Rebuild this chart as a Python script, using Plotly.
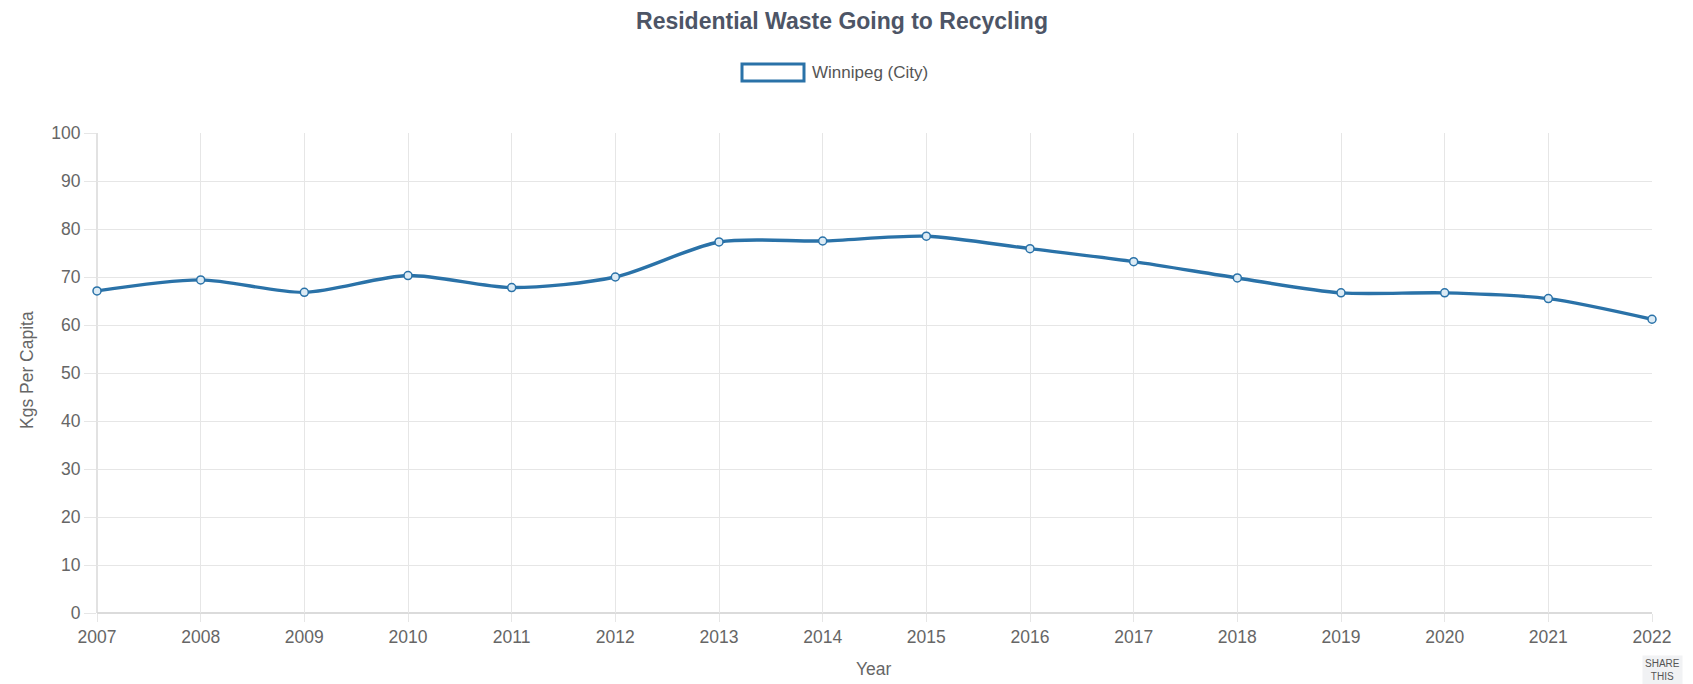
import plotly.graph_objects as go

years = [2007, 2008, 2009, 2010, 2011, 2012, 2013, 2014, 2015, 2016, 2017, 2018, 2019, 2020, 2021, 2022]
values = [67.1, 69.4, 66.8, 70.3, 67.8, 70.0, 77.3, 77.5, 78.5, 75.9, 73.2, 69.8, 66.7, 66.7, 65.5, 61.2]
series_name = "Winnipeg (City)"
title_text = "Residential Waste Going to Recycling"
y_title = "Kgs Per Capita"
x_title = "Year"

W, H = 1693, 684
L, R, T, B = 97, 41, 133, 71
PW, PH = W - L - R, H - T - B

LINE = "#2a72a8"
FONT = "Helvetica, Arial, Liberation Sans, sans-serif"

def px_x(px):
    return (px - L) / PW

def px_y(py):
    return (H - B - py) / PH

fig = go.Figure()
fig.add_trace(go.Scatter(
    x=years, y=values, mode="lines+markers", name=series_name,
    line=dict(color=LINE, width=3.4, shape="spline", smoothing=0.8),
    marker=dict(symbol="circle", size=8, color="rgba(220,235,245,1)",
                line=dict(color=LINE, width=1.5)),
    cliponaxis=False, showlegend=False,
))

fig.update_layout(
    width=W, height=H,
    margin=dict(l=L, r=R, t=T, b=B, pad=0),
    paper_bgcolor="white", plot_bgcolor="white",
    font=dict(family=FONT, color="#666666", size=17.5),
    title=dict(text="<b>" + title_text + "</b>", x=842 / W, xref="container",
               y=1 - 21 / H, yref="container", yanchor="middle", xanchor="center",
               font=dict(size=23, color="#4d5566", family=FONT)),
    xaxis=dict(range=[2007, 2022], tickmode="array", tickvals=years,
               ticktext=[str(y) for y in years],
               showgrid=True, gridcolor="#e6e6e6", gridwidth=1,
               ticks="outside", ticklen=8, tickcolor="#e6e6e6",
               showline=False, zeroline=False, fixedrange=True,
               tickfont=dict(size=17.5, color="#666666")),
    yaxis=dict(range=[0, 100], tickmode="linear", tick0=0, dtick=10,
               showgrid=True, gridcolor="#e6e6e6", gridwidth=1,
               ticks="outside", ticklen=12, tickcolor="#e6e6e6",
               showline=False, zeroline=False, fixedrange=True,
               tickfont=dict(size=17.5, color="#666666")),
    showlegend=False,
)

# axis lines (chart.js style darker zero lines)
fig.add_shape(type="line", xref="paper", yref="paper", x0=0, x1=1, y0=0, y1=0,
              line=dict(color="#cfcfcf", width=1.5), layer="below")
fig.add_shape(type="line", xref="paper", yref="paper", x0=0, x1=0, y0=0, y1=1,
              line=dict(color="#d9d9d9", width=1.5), layer="below")

# custom legend
fig.add_shape(type="rect", xref="paper", yref="paper",
              x0=px_x(742), x1=px_x(804), y0=px_y(81), y1=px_y(64),
              line=dict(color=LINE, width=3), fillcolor="rgba(0,0,0,0)")
fig.add_annotation(text=series_name, xref="paper", yref="paper",
                   x=px_x(810), y=px_y(72.5), xanchor="left", yanchor="middle",
                   showarrow=False, font=dict(size=17, color="#555555", family=FONT))

# axis titles
fig.add_annotation(text=x_title, xref="paper", yref="paper",
                   x=px_x(874), y=px_y(669), xanchor="center", yanchor="middle",
                   showarrow=False, font=dict(size=17.5, color="#666666", family=FONT))
fig.add_annotation(text=y_title, xref="paper", yref="paper", textangle=-90,
                   x=px_x(27), y=px_y(370), xanchor="center", yanchor="middle",
                   showarrow=False, font=dict(size=17.5, color="#666666", family=FONT))

# page button fragment
fig.add_annotation(text="SHARE<br>THIS", xref="paper", yref="paper",
                   x=px_x(1642), y=px_y(655), xanchor="left", yanchor="top",
                   showarrow=False, align="center", bgcolor="#f1f2f4", borderpad=2,
                   font=dict(size=10, color="#555555", family=FONT))

fig.write_html("out.html", config={"displayModeBar": False})
